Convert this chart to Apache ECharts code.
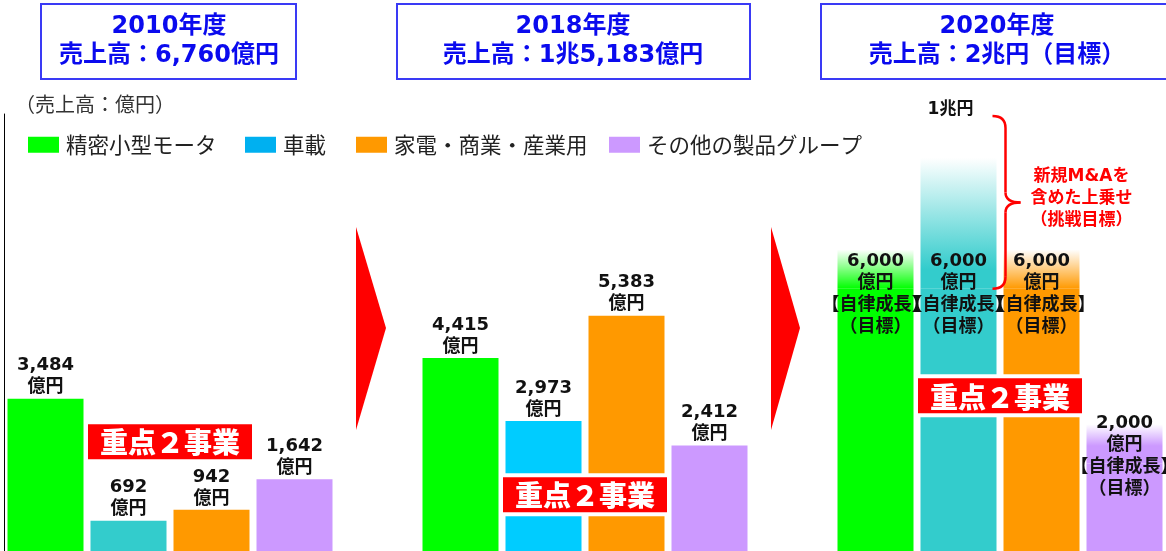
<!DOCTYPE html>
<html><head><meta charset="utf-8">
<script src="https://cdn.jsdelivr.net/npm/echarts@6/dist/echarts.min.js"></script>
<style>html,body{margin:0;padding:0;background:#fff}#c{width:1166px;height:551px}</style>
</head><body><div id="c"></div>
<script>
// ---- data ----
const years = ['2010年度', '2018年度', '2020年度'];
const salesTotals = ['売上高：6,760億円', '売上高：1兆5,183億円', '売上高：2兆円（目標）'];
const segments = ['精密小型モータ', '車載', '家電・商業・産業用', 'その他の製品グループ'];
const motorValues = [3484, 4415, 6000];
const autoValues = [692, 2973, 6000];
const applianceValues = [942, 5383, 6000];
const otherValues = [1642, 2412, 2000];
const fade2020 = [900, 3000, 900, 900];      // faded heads of the 2020 target bars
const challengeTarget = 10000;               // 1兆円 challenge level
const challengeLabel = '1兆円';
const unitLabel = '（売上高：億円）';
const focusLabel = '重点２事業';
const focusLevel = [2500, 1290, 3550];
const targetSuffix = ['【自律成長】', '（目標）'];
const maNote = ['新規M&Aを', '含めた上乗せ', '（挑戦目標）'];

(function () {
// ---- styles ----
const FONT = "'DejaVu Sans','Noto Sans CJK JP',sans-serif";
const JFONT = "'Noto Sans CJK JP',sans-serif";
const segColors = ['#00ff00', '#00b0f0', '#ff9900', '#cc99ff'];
const barColors = [
  ['#00ff00', '#00ff00', '#00ff00'],
  ['#33cccc', '#00ccff', '#33cccc'],
  ['#ff9900', '#ff9900', '#ff9900'],
  ['#cc99ff', '#cc99ff', '#cc99ff']
];
const rgb = [[0,255,0],[51,204,204],[255,153,0],[204,153,255]];
const fadeStops = [
  [[0,0],[1,1]],
  [[0,0],[0.85,1],[1,1]],
  [[0,0],[1,1]],
  [[0,0],[0.55,1],[1,1]]
];
const labelOffset2020 = [[0,-38],[0,-38],[0,-38],[0,-51]];

const valuesBySeg = [motorValues, autoValues, applianceValues, otherValues];
const N = 14;
const slot = (g, p) => g * 5 + p;
const slots = [];
for (let i = 0; i < N; i++) slots.push('s' + i);
const fmt = v => v.toLocaleString('en-US');

const labelBase = {fontFamily: FONT, fontWeight: 'bold', fontSize: 18, lineHeight: 22, color: '#111'};

const series = segments.map((name, p) => {
  const data = new Array(N).fill('-');
  valuesBySeg[p].forEach((v, g) => {
    const item = {value: v, itemStyle: {color: barColors[p][g]}};
    if (g === 2) {
      item.label = {position: 'insideTop', distance: 0, offset: labelOffset2020[p],
        formatter: fmt(v) + '\n億円\n' + targetSuffix.join('\n')};
    }
    data[slot(g, p)] = item;
  });
  return {
    name, type: 'bar', stack: 's', barWidth: 76, color: segColors[p], data, z: 2,
    label: Object.assign({show: true, position: 'top', distance: 0,
      formatter: prm => fmt(prm.value) + '\n億円'}, labelBase)
  };
});

const fadeData = new Array(N).fill('-');
fade2020.forEach((v, p) => {
  const c = rgb[p];
  fadeData[slot(2, p)] = {value: v, itemStyle: {color: {type: 'linear', x: 0, y: 0, x2: 0, y2: 1,
    colorStops: fadeStops[p].map(s => ({offset: s[0], color: `rgba(${c[0]},${c[1]},${c[2]},${s[1]})`}))}}};
});
series.push({name: 'fade', type: 'bar', stack: 's', barWidth: 76, data: fadeData, z: 1, silent: true});

const capData = new Array(N).fill('-');
capData[slot(2, 1)] = challengeTarget - autoValues[2] - fade2020[1];
series.push({name: 'cap', type: 'bar', stack: 's', barWidth: 76, data: capData,
  itemStyle: {color: 'rgba(0,0,0,0)'},
  label: Object.assign({show: true, position: 'top', distance: 0, offset: [-8, 7],
    formatter: challengeLabel}, labelBase, {fontSize: 17})});

const legendLefts = [28, 245, 356, 609];
const legends = segments.map((n, i) => ({
  data: [n], left: legendLefts[i], top: 134, padding: 0, icon: 'rect', itemWidth: 31, itemHeight: 16,
  selectedMode: false, itemGap: 0,
  textStyle: {fontSize: 21.5, fontFamily: JFONT, color: '#222', padding: [0, 0, 0, 2]}
}));

const chart = echarts.init(document.getElementById('c'), null, {renderer: 'canvas'});
chart.setOption({
  animation: false,
  backgroundColor: '#fff',
  legend: legends,
  grid: {left: 4, right: -2, top: 114, bottom: 0},
  xAxis: {type: 'category', data: slots, show: false},
  yAxis: {type: 'value', min: 0, max: challengeTarget,
    axisLine: {show: true, lineStyle: {color: '#000', width: 1}},
    axisLabel: {show: false}, axisTick: {show: false}, splitLine: {show: false}},
  series
});

// ---- annotations ----
const toPx = (i, v) => chart.convertToPixel({gridIndex: 0}, [i, v]);
const gr = [];
const headerBoxes = [[41, 255], [397, 353], [821, 352]];
const headerCenters = [169, 573, 997];
years.forEach((y, i) => {
  gr.push({type: 'rect', shape: {x: headerBoxes[i][0], y: 4, width: headerBoxes[i][1], height: 75},
    style: {fill: '#fff', stroke: '#3a3af5', lineWidth: 2}, z: 10});
  gr.push({type: 'text', z: 11, style: {text: y, x: headerCenters[i], y: 27, textAlign: 'center', textVerticalAlign: 'middle',
    font: "bold 24px " + FONT, fill: '#0a0aee'}});
  gr.push({type: 'text', z: 11, style: {text: salesTotals[i], x: headerCenters[i], y: 56, textAlign: 'center', textVerticalAlign: 'middle',
    font: "bold 24px " + FONT, fill: '#0a0aee'}});
});
gr.push({type: 'text', z: 11, style: {text: unitLabel, x: 15, y: 104, textVerticalAlign: 'middle',
  font: "20px " + JFONT, fill: '#333'}});
[[356, 386], [771, 800]].forEach(a => {
  gr.push({type: 'polygon', z: 5, shape: {points: [[a[0], 227], [a[1], 328], [a[0], 430]]}, style: {fill: '#ff0000'}});
});
for (let k = 0; k < 3; k++) {
  const p1 = toPx(slot(k, 1), focusLevel[k]);
  const p2 = toPx(slot(k, 2), focusLevel[k]);
  const cx = (p1[0] + p2[0]) / 2, cy = p1[1];
  const w = 164, h = 35;
  gr.push({type: 'rect', z: 20, shape: {x: cx - w / 2 - 4, y: cy - h / 2 - 4, width: w + 8, height: h + 8}, style: {fill: '#fff'}});
  gr.push({type: 'rect', z: 21, shape: {x: cx - w / 2, y: cy - h / 2, width: w, height: h}, style: {fill: '#ff0000'}});
  gr.push({type: 'text', z: 22, style: {text: focusLabel, x: cx, y: cy + 1, textAlign: 'center', textVerticalAlign: 'middle',
    font: "900 28px " + JFONT, fill: '#fff'}});
}
const pTop = toPx(slot(2, 1), challengeTarget);
const pBot = toPx(slot(2, 1), autoValues[2]);
const bx = pTop[0] + 47, x0 = pTop[0] + 34, tip = pTop[0] + 62;
const y0 = pTop[1] + 2, y1 = pBot[1], ym = (y0 + y1) / 2;
const braceStyle = {fill: 'none', stroke: '#ff0000', lineWidth: 2.5};
const curve = (a, b, c) => ({type: 'bezierCurve', z: 15, shape: {x1: a[0], y1: a[1], cpx1: b[0], cpy1: b[1], x2: c[0], y2: c[1]}, style: braceStyle});
const seg = (a, c) => ({type: 'line', z: 15, shape: {x1: a[0], y1: a[1], x2: c[0], y2: c[1]}, style: braceStyle});
gr.push(curve([x0, y0], [bx, y0], [bx, y0 + 12]));
gr.push(seg([bx, y0 + 12], [bx, ym - 10]));
gr.push(curve([bx, ym - 10], [bx, ym], [tip, ym]));
gr.push(curve([tip, ym], [bx, ym], [bx, ym + 10]));
gr.push(seg([bx, ym + 10], [bx, y1 - 12]));
gr.push(curve([bx, y1 - 12], [bx, y1], [x0, y1]));
gr.push({type: 'text', z: 15, style: {text: maNote.join('\n'), x: pTop[0] + 123, y: ym - 4, textAlign: 'center', textVerticalAlign: 'middle',
  font: "bold 17px " + FONT, lineHeight: 22, fill: '#ff0000'}});
chart.setOption({graphic: gr});
})();
</script>
</body></html>
